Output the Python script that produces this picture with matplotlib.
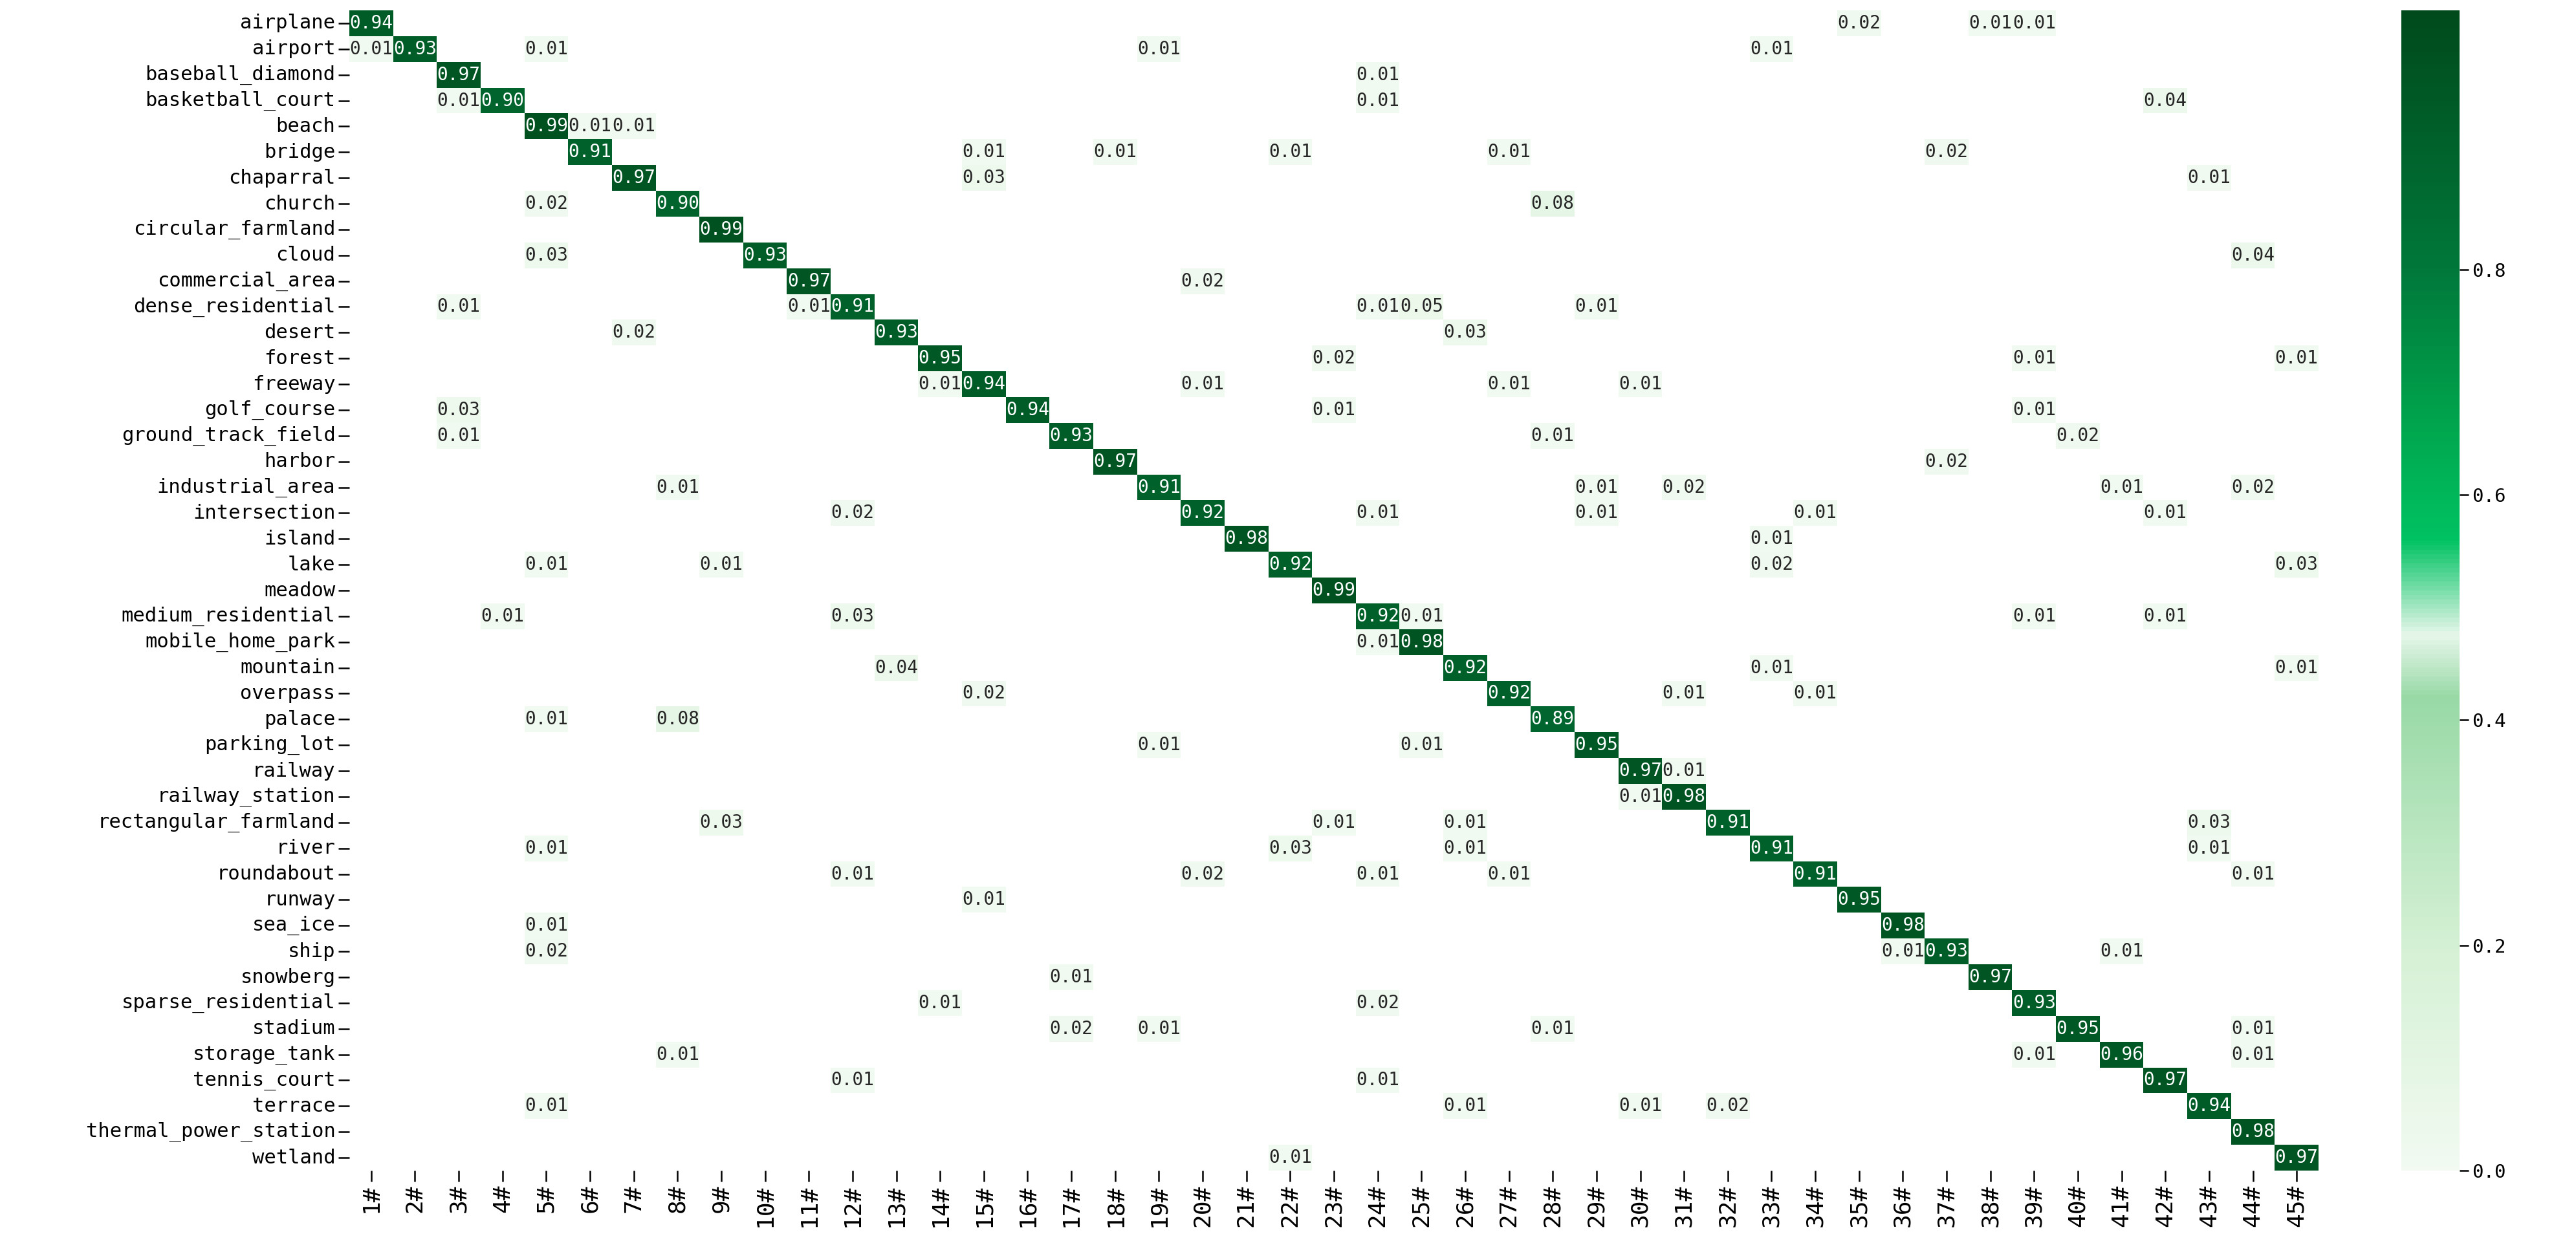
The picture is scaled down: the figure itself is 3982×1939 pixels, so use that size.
import numpy as np
import matplotlib
matplotlib.use("Agg")
import matplotlib.pyplot as plt
import seaborn as sns
from matplotlib.colors import LinearSegmentedColormap

classes = ["airplane", "airport", "baseball_diamond", "basketball_court", "beach", "bridge",
           "chaparral", "church", "circular_farmland", "cloud", "commercial_area",
           "dense_residential", "desert", "forest", "freeway", "golf_course",
           "ground_track_field", "harbor", "industrial_area", "intersection", "island",
           "lake", "meadow", "medium_residential", "mobile_home_park", "mountain",
           "overpass", "palace", "parking_lot", "railway", "railway_station",
           "rectangular_farmland", "river", "roundabout", "runway", "sea_ice", "ship",
           "snowberg", "sparse_residential", "stadium", "storage_tank", "tennis_court",
           "terrace", "thermal_power_station", "wetland"]

col_labels = [f"{i}#" for i in range(1, 46)]

diag = [0.94, 0.93, 0.97, 0.90, 0.99, 0.91, 0.97, 0.90, 0.99, 0.93, 0.97, 0.91, 0.93,
        0.95, 0.94, 0.94, 0.93, 0.97, 0.91, 0.92, 0.98, 0.92, 0.99, 0.92, 0.98, 0.92,
        0.92, 0.89, 0.95, 0.97, 0.98, 0.91, 0.91, 0.91, 0.95, 0.98, 0.93, 0.97, 0.93,
        0.95, 0.96, 0.97, 0.94, 0.98, 0.97]

# off-diagonal entries: row number (1-based) -> list of (column number, value)
offdiag = {
    1: [(35, 0.02), (38, 0.01), (39, 0.01)],
    2: [(1, 0.01), (5, 0.01), (19, 0.01), (33, 0.01)],
    3: [(24, 0.01)],
    4: [(3, 0.01), (24, 0.01), (42, 0.04)],
    5: [(6, 0.01), (7, 0.01)],
    6: [(15, 0.01), (18, 0.01), (22, 0.01), (27, 0.01), (37, 0.02)],
    7: [(15, 0.03), (43, 0.01)],
    8: [(5, 0.02), (28, 0.08)],
    10: [(5, 0.03), (44, 0.04)],
    11: [(20, 0.02)],
    12: [(3, 0.01), (11, 0.01), (24, 0.01), (25, 0.05), (29, 0.01)],
    13: [(7, 0.02), (26, 0.03)],
    14: [(23, 0.02), (39, 0.01), (45, 0.01)],
    15: [(14, 0.01), (20, 0.01), (27, 0.01), (30, 0.01)],
    16: [(3, 0.03), (23, 0.01), (39, 0.01)],
    17: [(3, 0.01), (28, 0.01), (40, 0.02)],
    18: [(37, 0.02)],
    19: [(8, 0.01), (29, 0.01), (31, 0.02), (41, 0.01), (44, 0.02)],
    20: [(12, 0.02), (24, 0.01), (29, 0.01), (34, 0.01), (42, 0.01)],
    21: [(33, 0.01)],
    22: [(5, 0.01), (9, 0.01), (33, 0.02), (45, 0.03)],
    24: [(4, 0.01), (12, 0.03), (25, 0.01), (39, 0.01), (42, 0.01)],
    25: [(24, 0.01)],
    26: [(13, 0.04), (33, 0.01), (45, 0.01)],
    27: [(15, 0.02), (31, 0.01), (34, 0.01)],
    28: [(5, 0.01), (8, 0.08)],
    29: [(19, 0.01), (25, 0.01)],
    30: [(31, 0.01)],
    31: [(30, 0.01)],
    32: [(9, 0.03), (23, 0.01), (26, 0.01), (43, 0.03)],
    33: [(5, 0.01), (22, 0.03), (26, 0.01), (43, 0.01)],
    34: [(12, 0.01), (20, 0.02), (24, 0.01), (27, 0.01), (44, 0.01)],
    35: [(15, 0.01)],
    36: [(5, 0.01)],
    37: [(5, 0.02), (36, 0.01), (41, 0.01)],
    38: [(17, 0.01)],
    39: [(14, 0.01), (24, 0.02)],
    40: [(17, 0.02), (19, 0.01), (28, 0.01), (44, 0.01)],
    41: [(8, 0.01), (39, 0.01), (44, 0.01)],
    42: [(12, 0.01), (24, 0.01)],
    43: [(5, 0.01), (26, 0.01), (30, 0.01), (32, 0.02)],
    45: [(22, 0.01)],
}

n = len(classes)
cm = np.zeros((n, n))
for i, v in enumerate(diag):
    cm[i, i] = v
for r, items in offdiag.items():
    for c, v in items:
        cm[r - 1, c - 1] = v
annot = np.where(cm > 0, np.vectorize(lambda v: f"{v:.2f}")(cm), "")

vmax = 1.03
stops = [(0.0, "#f2faf1"), (0.2, "#d4f0d4"), (0.42, "#98d9a6"), (0.475, "#e6f6ea"),
         (0.56, "#00c262"), (0.65, "#00a94f"), (0.8, "#00783a"), (vmax, "#004a1b")]
cmap = LinearSegmentedColormap.from_list("grn", [(v / vmax, c) for v, c in stops])

W, H = 3982, 1939
fig = plt.figure(figsize=(W / 100, H / 100), dpi=100)
ax = fig.add_axes([540 / W, 1 - 1810 / H, (3584 - 540) / W, (1810 - 16) / H])
cax = fig.add_axes([3712 / W, 1 - 1810 / H, 90 / W, (1810 - 16) / H])

mono = "DejaVu Sans Mono"
sns.heatmap(cm, ax=ax, cbar_ax=cax, cmap=cmap, vmin=0, vmax=vmax, mask=(cm == 0),
            annot=annot, fmt="", annot_kws={"fontsize": 20, "family": mono},
            xticklabels=col_labels, yticklabels=classes)

ax.set_yticklabels(classes, rotation=0, fontsize=22, family=mono)
ax.set_xticklabels(col_labels, rotation=90, fontsize=26, family=mono)
ax.tick_params(axis="both", length=12, width=1.8)
cax.tick_params(labelsize=21, length=10, width=1.8)
cax.set_yticks([0.0, 0.2, 0.4, 0.6, 0.8])
for t in cax.get_yticklabels():
    t.set_family(mono)

fig.savefig("out.png", dpi=100)
